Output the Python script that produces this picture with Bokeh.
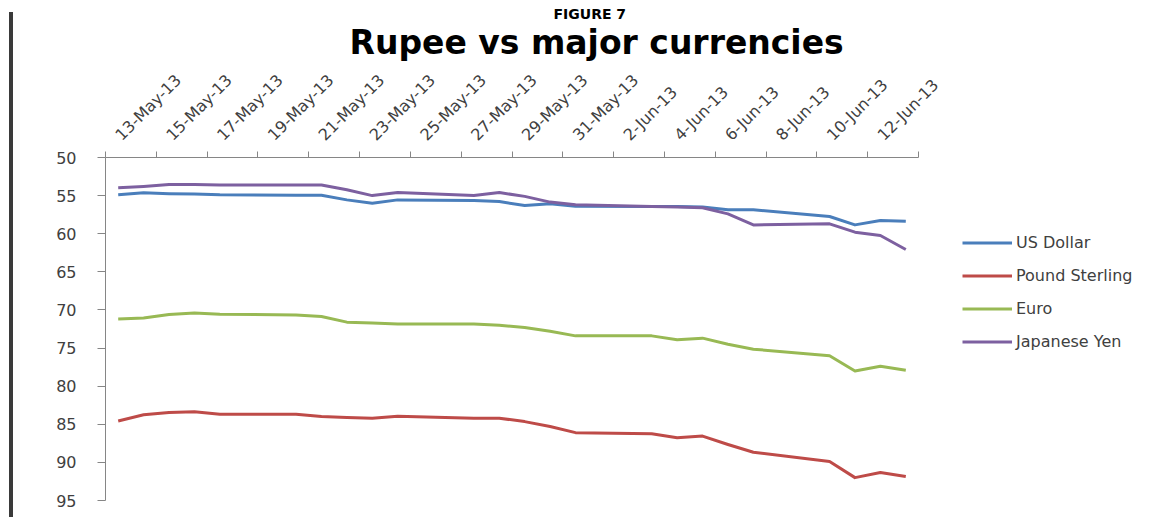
import pandas as pd
from math import pi
from bokeh.plotting import figure
from bokeh.models import Range1d, FixedTicker, Legend, LegendItem, Title, InlineStyleSheet
from bokeh.embed import file_html
from bokeh.resources import INLINE

# ---- data ----
dates = ["2013-05-13", "2013-05-14", "2013-05-15", "2013-05-16", "2013-05-17",
         "2013-05-20", "2013-05-21", "2013-05-22", "2013-05-23", "2013-05-24",
         "2013-05-27", "2013-05-28", "2013-05-29", "2013-05-30", "2013-05-31",
         "2013-06-03", "2013-06-04", "2013-06-05", "2013-06-06", "2013-06-07",
         "2013-06-10", "2013-06-11", "2013-06-12", "2013-06-13"]
usd = [54.90, 54.64, 54.74, 54.80, 54.90, 54.94, 54.94, 55.56, 56.00, 55.56,
       55.65, 55.78, 56.30, 56.08, 56.40, 56.43, 56.43, 56.50, 56.87, 56.87,
       57.74, 58.84, 58.27, 58.36]
gbp = [84.56, 83.76, 83.45, 83.36, 83.67, 83.67, 83.98, 84.10, 84.20, 83.94,
       84.20, 84.20, 84.65, 85.30, 86.10, 86.24, 86.77, 86.55, 87.65, 88.67,
       89.87, 92.00, 91.33, 91.86]
eur = [71.20, 71.07, 70.60, 70.40, 70.55, 70.65, 70.85, 71.60, 71.70, 71.85,
       71.85, 72.00, 72.30, 72.80, 73.40, 73.40, 73.90, 73.70, 74.50, 75.15,
       76.00, 78.00, 77.40, 77.90]
jpy = [53.98, 53.80, 53.55, 53.55, 53.60, 53.60, 53.60, 54.24, 55.00, 54.60,
       55.00, 54.60, 55.10, 55.85, 56.20, 56.43, 56.50, 56.60, 57.40, 58.84,
       58.70, 59.80, 60.24, 62.07]
series_names = ["US Dollar", "Pound Sterling", "Euro", "Japanese Yen"]
tick_dates = ["2013-05-13", "2013-05-15", "2013-05-17", "2013-05-19", "2013-05-21",
              "2013-05-23", "2013-05-25", "2013-05-27", "2013-05-29", "2013-05-31",
              "2013-06-02", "2013-06-04", "2013-06-06", "2013-06-08", "2013-06-10",
              "2013-06-12"]
tick_labels = ["13-May-13", "15-May-13", "17-May-13", "19-May-13", "21-May-13",
               "23-May-13", "25-May-13", "27-May-13", "29-May-13", "31-May-13",
               "2-Jun-13", "4-Jun-13", "6-Jun-13", "8-Jun-13", "10-Jun-13",
               "12-Jun-13"]
y_ticks = [50, 55, 60, 65, 70, 75, 80, 85, 90, 95]
title_text = "Rupee vs major currencies"
figure_text = "FIGURE 7"

start = pd.Timestamp(dates[0])
xs = [(pd.Timestamp(d) - start).days for d in dates]
label_pos = [(pd.Timestamp(d) - start).days for d in tick_dates]
boundaries = [v - 0.5 for v in label_pos] + [label_pos[-1] + 1.5]

# layout geometry (pixels)
W, H = 1174, 517
PLOT_L, PLOT_R, FRAME_R = 105, 918, 1170
px_per_unit = (PLOT_R - PLOT_L) / (boundaries[-1] - boundaries[0])
x_end = boundaries[0] + (FRAME_R - PLOT_L) / px_per_unit   # frame extends right to hold the legend

FONT = "DejaVu Sans"
GRAY = "#868686"
TXT = "#404040"

p = figure(width=W, height=H,
           x_range=Range1d(boundaries[0], x_end),
           y_range=Range1d(95, 50),
           x_axis_location="above",
           output_backend="svg", toolbar_location=None,
           min_border_left=PLOT_L, min_border_right=W - FRAME_R,
           min_border_top=157, min_border_bottom=17)
p.outline_line_color = None
p.xgrid.grid_line_color = None
p.ygrid.grid_line_color = None
p.title.visible = False

# dark vertical rule at the far left of the page (page decoration)
p.stylesheets = [InlineStyleSheet(css=
    ":host::before { content: ''; position: absolute; left: 9px; top: 12px;"
    " width: 4px; height: 510px; background: #3a3a3a; z-index: 50; }")]

colors = ["#4A7EBB", "#BE4B48", "#98B954", "#7D60A0"]
renderers = []
for vals, col in zip([usd, gbp, eur, jpy], colors):
    r = p.line(xs, vals, line_color=col, line_width=3, line_join="round")
    renderers.append(r)

# y axis
ya = p.yaxis[0]
ya.ticker = FixedTicker(ticks=y_ticks)
ya.axis_line_color = GRAY
ya.major_tick_line_color = GRAY
ya.major_tick_out = 8
ya.major_tick_in = 0
ya.minor_tick_line_color = None
ya.major_label_standoff = 21
ya.major_label_text_font = FONT
ya.major_label_text_font_size = "16px"
ya.major_label_text_color = TXT

# x axis (top), limited to the date span
xa = p.xaxis[0]
xa.bounds = (boundaries[0], boundaries[-1])
xa.ticker = FixedTicker(ticks=label_pos, minor_ticks=boundaries)
xa.major_label_overrides = {pos: lab for pos, lab in zip(label_pos, tick_labels)}
xa.major_label_orientation = pi / 4
xa.axis_line_color = GRAY
xa.major_tick_line_color = None
xa.major_tick_out = 0
xa.major_tick_in = 0
xa.minor_tick_line_color = GRAY
xa.minor_tick_out = 6
xa.minor_tick_in = 0
xa.major_label_standoff = 14
xa.major_label_text_font = FONT
xa.major_label_text_font_size = "16px"
xa.major_label_text_color = TXT

# titles stacked above the axis
main_title = Title(text=title_text, align="left", offset=244, standoff=-2,
                   text_font=FONT, text_font_style="bold", text_font_size="33px",
                   text_color="black")
p.add_layout(main_title, "above")
fig_title = Title(text=figure_text, align="left", offset=448, standoff=0,
                  text_font=FONT, text_font_style="bold", text_font_size="14px",
                  text_color="black")
p.add_layout(fig_title, "above")

# series legend, inside the (widened) frame to the right of the lines
legend = Legend(items=[LegendItem(label=n, renderers=[r]) for n, r in zip(series_names, renderers)],
                location=(962 - PLOT_L, 148), orientation="vertical",
                glyph_width=50, glyph_height=21, label_height=21,
                spacing=12, padding=0, margin=0, label_standoff=4,
                border_line_color=None, background_fill_alpha=0,
                label_text_font=FONT, label_text_font_size="16px",
                label_text_color=TXT)
p.add_layout(legend)

open("out.html", "w").write(file_html(p, INLINE))
